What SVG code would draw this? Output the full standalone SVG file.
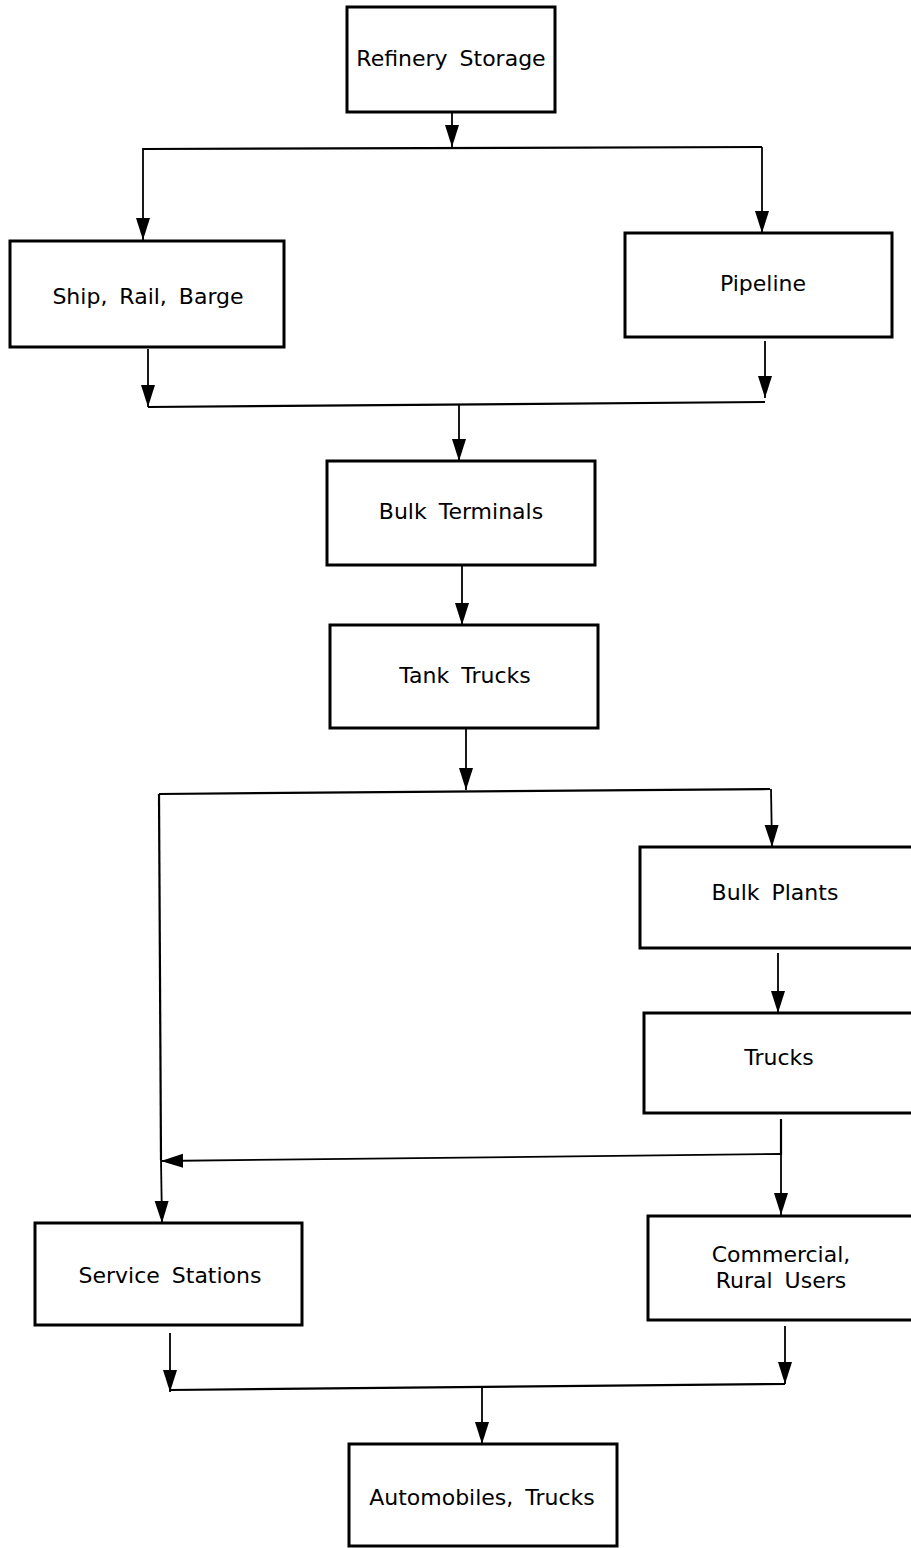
<svg xmlns="http://www.w3.org/2000/svg" width="911" height="1548" viewBox="0 0 911 1548">
<defs>
<marker id="ah" markerUnits="userSpaceOnUse" markerWidth="24" markerHeight="16" refX="22" refY="8" orient="auto">
<path d="M0,1 L22,8 L0,15 Z" fill="#000"/>
</marker>
<style>
.box{fill:#fff;stroke:#000;stroke-width:3}
.ln{fill:none;stroke:#000;stroke-width:2.2}
.ar{fill:none;stroke:#000;stroke-width:1.8;marker-end:url(#ah)}
text{font-family:"DejaVu Sans","Liberation Sans",sans-serif;font-size:22px;fill:#000;text-anchor:middle;word-spacing:5px}
</style>
</defs>
<rect width="911" height="1548" fill="#fff"/>
<g id="connectors">
<line class="ar" x1="452" y1="113" x2="452" y2="147"/>
<line class="ln" x1="143" y1="149" x2="762" y2="147"/>
<line class="ar" x1="143" y1="148" x2="143" y2="240"/>
<line class="ar" x1="762" y1="147" x2="762" y2="233"/>
<line class="ar" x1="148" y1="349" x2="148" y2="407"/>
<line class="ar" x1="765" y1="341" x2="765" y2="398"/>
<line class="ln" x1="148" y1="407" x2="765" y2="402"/>
<line class="ar" x1="459" y1="405" x2="459" y2="461"/>
<line class="ar" x1="462" y1="566" x2="462" y2="625"/>
<line class="ar" x1="466" y1="729" x2="466" y2="790"/>
<line class="ln" x1="159" y1="794" x2="770" y2="789"/>
<line class="ar" x1="771" y1="789" x2="772" y2="847"/>
<line class="ln" x1="159" y1="794" x2="161" y2="1160"/>
<line class="ar" x1="161" y1="1160" x2="162" y2="1223"/>
<line class="ar" x1="778" y1="953" x2="778" y2="1013"/>
<line class="ln" x1="781" y1="1119" x2="781" y2="1155"/>
<line class="ar" x1="781" y1="1154" x2="161" y2="1161"/>
<line class="ar" x1="781" y1="1155" x2="781" y2="1215"/>
<line class="ar" x1="170" y1="1333" x2="170" y2="1392"/>
<line class="ar" x1="785" y1="1326" x2="785" y2="1384"/>
<line class="ln" x1="170" y1="1390" x2="785" y2="1384"/>
<line class="ar" x1="482" y1="1387" x2="482" y2="1444"/>
</g>
<g id="refinery-storage"><rect class="box" x="347" y="7" width="208" height="105"/><text x="451" y="66">Refinery Storage</text></g>
<g id="ship-rail-barge"><rect class="box" x="10" y="241" width="274" height="106"/><text x="148" y="304">Ship, Rail, Barge</text></g>
<g id="pipeline"><rect class="box" x="625" y="233" width="267" height="104"/><text x="763" y="291">Pipeline</text></g>
<g id="bulk-terminals"><rect class="box" x="327" y="461" width="268" height="104"/><text x="461" y="519">Bulk Terminals</text></g>
<g id="tank-trucks"><rect class="box" x="330" y="625" width="268" height="103"/><text x="465" y="683">Tank Trucks</text></g>
<g id="bulk-plants"><rect class="box" x="640" y="847" width="275" height="101"/><text x="775" y="900">Bulk Plants</text></g>
<g id="trucks"><rect class="box" x="644" y="1013" width="271" height="100"/><text x="779" y="1065">Trucks</text></g>
<g id="service-stations"><rect class="box" x="35" y="1223" width="267" height="102"/><text x="170" y="1283">Service Stations</text></g>
<g id="commercial-rural-users"><rect class="box" x="648" y="1216" width="267" height="104"/><text x="781" y="1262">Commercial,</text><text x="781" y="1288">Rural Users</text></g>
<g id="automobiles-trucks"><rect class="box" x="349" y="1444" width="268" height="102"/><text x="482" y="1505">Automobiles, Trucks</text></g>
</svg>
